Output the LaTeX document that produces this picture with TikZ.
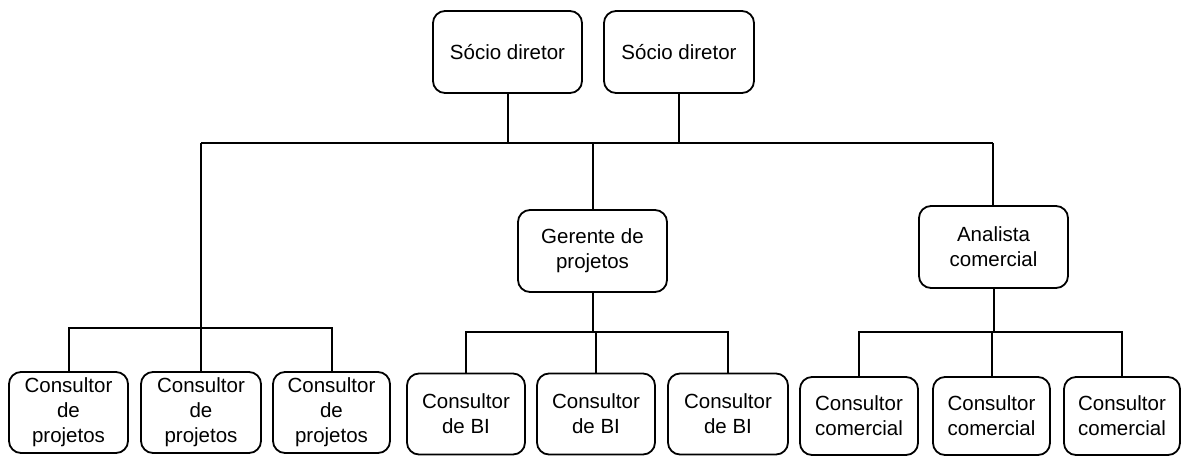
\documentclass[tikz,border=0pt]{standalone}
\usepackage{fontspec}
\setmainfont{Liberation Sans}
\begin{document}
\begin{tikzpicture}[x=1pt,y=-1pt,
  box/.style={draw=black, line width=1.8pt, rounded corners=12pt, align=center,
    font=\fontsize{20.5}{25}\selectfont, inner sep=0pt, fill=white},
  conn/.style={draw=black, line width=2pt}]
\useasboundingbox[fill=white] (0,0) rectangle (1181,456);
% top
\node[box, minimum width=149pt, minimum height=82pt] (sd1) at (507.5,52) {Sócio diretor};
\node[box, minimum width=150pt, minimum height=82pt] (sd2) at (679,52) {Sócio diretor};
% middle
\node[box, minimum width=149pt, minimum height=82pt] (ger) at (592.5,251) {Gerente de\\projetos};
\node[box, minimum width=149pt, minimum height=82pt] (ana) at (993.5,247) {Analista\\comercial};
% bottom projetos
\node[box, minimum width=119pt, minimum height=81pt] (p1) at (68.5,412.5) {Consultor\\de\\projetos};
\node[box, minimum width=120pt, minimum height=81pt] (p2) at (201,412.5) {Consultor\\de\\projetos};
\node[box, minimum width=117pt, minimum height=81pt] (p3) at (331.5,412.5) {Consultor\\de\\projetos};
% bottom BI
\node[box, minimum width=118pt, minimum height=81pt] (b1) at (466,414) {Consultor\\de BI};
\node[box, minimum width=118pt, minimum height=81pt] (b2) at (596,414) {Consultor\\de BI};
\node[box, minimum width=120pt, minimum height=81pt] (b3) at (728,414) {Consultor\\de BI};
% bottom comercial
\node[box, minimum width=118pt, minimum height=78pt] (c1) at (859,416) {Consultor\\comercial};
\node[box, minimum width=117pt, minimum height=78pt] (c2) at (991.5,416) {Consultor\\comercial};
\node[box, minimum width=116pt, minimum height=78pt] (c3) at (1122,416) {Consultor\\comercial};
% coordinates
\coordinate (busL) at (201,143);
\coordinate (busR) at (993,143);
\coordinate (busC) at (593,143);
\coordinate (pbus) at (201,328);
\coordinate (bbus) at (595,332);
\coordinate (cbus) at (993,332);
% connectors
\draw[conn] (busL) -- (busR);
\draw[conn] (sd1.south) -- (sd1.south |- busL);
\draw[conn] (sd2.south) -- (sd2.south |- busL);
\draw[conn] (busC) -- (busC |- ger.north);
\draw[conn] (busR) -- (busR |- ana.north);
\draw[conn] (busL) -- (pbus);
\draw[conn] (p1.north) |- (pbus) -| (p3.north);
\draw[conn] (pbus) -- (p2.north);
\draw[conn] (ger.south) -- (ger.south |- bbus);
\draw[conn] (b1.north) |- (bbus) -| (b3.north);
\draw[conn] (b2.north |- bbus) -- (b2.north);
\draw[conn] (ana.south) -- (ana.south |- cbus);
\draw[conn] (c1.north) |- (cbus) -| (c3.north);
\draw[conn] (c2.north |- cbus) -- (c2.north);
\end{tikzpicture}
\end{document}
